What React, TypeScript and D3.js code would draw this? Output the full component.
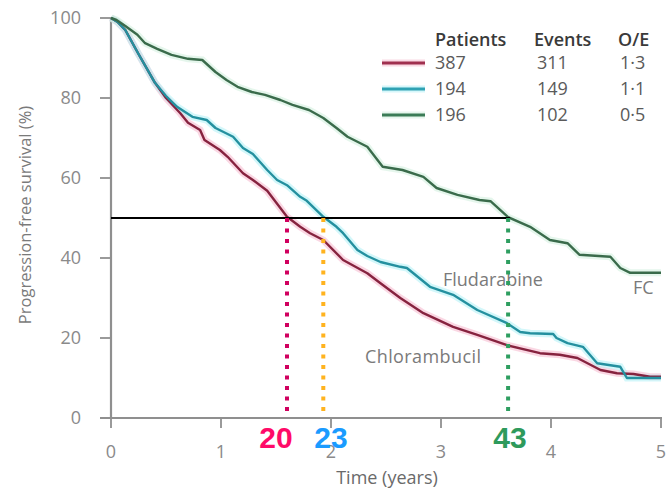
import React from "react";
import * as d3 from "d3";

// Kaplan–Meier progression-free survival, read as [years, percent]
const chlorambucil: [number, number][] = [
  [0, 100], [0.06, 99], [0.13, 97], [0.25, 91], [0.4, 83.8], [0.5, 80], [0.63, 76.2],
  [0.7, 73.8], [0.81, 72], [0.85, 69.5], [0.99, 67], [1.06, 65.3], [1.2, 61.2],
  [1.29, 59.5], [1.42, 56.8], [1.6, 50.3], [1.72, 47.8], [1.81, 46.2], [1.93, 44.5],
  [2.11, 39.5], [2.33, 36.2], [2.45, 33.7], [2.63, 30], [2.84, 26.2], [3.11, 22.8],
  [3.33, 20.8], [3.6, 18.2], [3.9, 16.2], [4.08, 15.8], [4.24, 15], [4.45, 12],
  [4.6, 11.2], [4.75, 11], [4.9, 10.3], [5.0, 10.3],
];

const fludarabine: [number, number][] = [
  [0, 100], [0.06, 99], [0.13, 97], [0.25, 91], [0.4, 83.8], [0.5, 80.5], [0.6, 77.8],
  [0.74, 75.3], [0.87, 74.5], [0.95, 72.5], [1.11, 70.3], [1.2, 67.5], [1.29, 66],
  [1.42, 62], [1.51, 59.5], [1.6, 58.2], [1.72, 55.3], [1.78, 54.3], [1.93, 50.3],
  [2.05, 47.8], [2.11, 46.2], [2.24, 42], [2.33, 40.5], [2.45, 39], [2.63, 37.8],
  [2.69, 37.5], [2.9, 32.8], [3.11, 30.8], [3.33, 27], [3.6, 23.7], [3.72, 21.5],
  [3.81, 21.2], [4.02, 21], [4.05, 20], [4.15, 18.7], [4.29, 17.8], [4.42, 13.7],
  [4.63, 12.8], [4.69, 10], [5.0, 10],
];

const fc: [number, number][] = [
  [0, 100], [0.05, 99.5], [0.13, 98], [0.24, 95.8], [0.31, 93.7], [0.42, 92.3],
  [0.55, 90.8], [0.7, 89.8], [0.83, 89.5], [0.95, 86.5], [1.05, 84.5], [1.15, 82.8],
  [1.28, 81.5], [1.4, 80.8], [1.54, 79.5], [1.65, 78.3], [1.8, 77], [1.93, 75],
  [2.05, 72.5], [2.15, 70.3], [2.33, 67.8], [2.47, 62.8], [2.65, 62], [2.84, 60.3],
  [2.96, 57.5], [3.15, 55.8], [3.35, 54.5], [3.45, 54.2], [3.61, 50.2], [3.81, 47.8],
  [3.99, 44.5], [4.15, 43.7], [4.26, 40.8], [4.54, 40.3], [4.63, 37.5], [4.72, 36.3],
  [5.0, 36.3],
];

const xTicks = [0, 1, 2, 3, 4, 5];
const yTicks = [0, 20, 40, 60, 80, 100];

// Legend table
const legendHeaders = ["Patients", "Events", "O/E"];
const legendPatients = ["387", "194", "196"];
const legendEvents = ["311", "149", "102"];
const legendOE = ["1·3", "1·1", "0·5"];

// Median PFS markers (months) and where each curve crosses 50%
const medianMonths = ["20", "23", "43"];
const medianYears = [1.6, 1.93, 3.61];
const medianLevel = 50;

const lineColors = ["#86233f", "#24909f", "#3a6b4b"];
const haloColors = ["#f6b7cc", "#aef0f6", "#cfeedd"];
const legendLineColors = ["#a0304f", "#2fa2b3", "#3b7c57"];
const dotColors = ["#d0005e", "#ffb31f", "#2e9e60"];
const medianTextColors = ["#ff0a68", "#1a9bff", "#2e9a5c"];

const W = 668;
const H = 491;

export default function App() {
  const x = d3.scaleLinear().domain([0, 5]).range([111, 661]);
  const y = d3.scaleLinear().domain([0, 100]).range([418, 18]);

  const line = d3
    .line<[number, number]>()
    .x((d) => x(d[0]))
    .y((d) => y(d[1]))
    .curve(d3.curveLinear);

  const series = [chlorambucil, fludarabine, fc];
  const font = "'Open Sans', Lato, sans-serif";
  const axisColor = "#8f8f8f";

  return (
    <svg
      width={W}
      height={H}
      style={{ position: "absolute", left: 0, top: 0, background: "#fff" }}
      fontFamily={font}
    >
      {/* axes */}
      <line x1={x(0)} x2={x(0)} y1={y(100)} y2={y(0)} stroke={axisColor} strokeWidth={2.2} />
      <line x1={100} x2={x(5) + 1} y1={y(0)} y2={y(0)} stroke={axisColor} strokeWidth={2.2} />
      {yTicks.map((t) => (
        <g key={"y" + t}>
          <line x1={100} x2={x(0)} y1={y(t)} y2={y(t)} stroke={axisColor} strokeWidth={1.8} />
          <text x={81} y={y(t)} dy="0.35em" textAnchor="end" fontSize={18} fill="#8a8a8a">
            {t}
          </text>
        </g>
      ))}
      {xTicks.map((t) => (
        <g key={"x" + t}>
          <line x1={x(t)} x2={x(t)} y1={y(0)} y2={y(0) + 10} stroke={axisColor} strokeWidth={1.8} />
          <text x={x(t)} y={452} dy="0.35em" textAnchor="middle" fontSize={18} fill="#8a8a8a">
            {t}
          </text>
        </g>
      ))}
      <text
        transform={`translate(25,215) rotate(-90)`}
        textAnchor="middle"
        dy="0.35em"
        fontSize={16.5}
        fill="#7a7a7a"
      >
        Progression-free survival (%)
      </text>
      <text x={387} y={478} dy="0.35em" textAnchor="middle" fontSize={18} fill="#6a6a6a">
        Time (years)
      </text>

      {/* survival curves */}
      {series.map((s, i) => (
        <path key={"h" + i} d={line(s) ?? ""} fill="none" stroke={haloColors[i]} strokeWidth={7} opacity={0.55} />
      ))}
      {series.map((s, i) => (
        <path key={"c" + i} d={line(s) ?? ""} fill="none" stroke={lineColors[i]} strokeWidth={2.4} strokeLinejoin="round" />
      ))}

      {/* curve labels */}
      <text x={443} y={280} dy="0.35em" fontSize={18} fill="#7a7a7a">Fludarabine</text>
      <text x={365} y={357} dy="0.35em" fontSize={18} fill="#7a7a7a" letterSpacing={0.4}>Chlorambucil</text>
      <text x={633} y={288} dy="0.35em" fontSize={18} fill="#7a7a7a">FC</text>

      {/* legend */}
      {legendHeaders.map((h, i) => (
        <text key={h} x={[435, 534, 618][i]} y={40} dy="0.35em" fontSize={18} fontWeight={600} fill="#3a3a3a">
          {h}
        </text>
      ))}
      {legendPatients.map((p, i) => {
        const ry = 63 + i * 26;
        return (
          <g key={"lg" + i}>
            <line x1={382} x2={425} y1={ry} y2={ry} stroke={haloColors[i]} strokeWidth={7} opacity={0.5} />
            <line x1={382} x2={425} y1={ry} y2={ry} stroke={legendLineColors[i]} strokeWidth={3} />
            <text x={435} y={ry} dy="0.35em" fontSize={18} fill="#5a5a5a">{p}</text>
            <text x={537} y={ry} dy="0.35em" fontSize={18} fill="#5a5a5a">{legendEvents[i]}</text>
            <text x={620} y={ry} dy="0.35em" fontSize={18} fill="#5a5a5a">{legendOE[i]}</text>
          </g>
        );
      })}

      {/* median reference lines */}
      <line
        x1={x(0)}
        x2={x(medianYears[2]) + 2}
        y1={y(medianLevel)}
        y2={y(medianLevel)}
        stroke="#000"
        strokeWidth={2}
      />
      {medianYears.map((m, i) => (
        <line
          key={"m" + i}
          x1={x(m)}
          x2={x(m)}
          y1={y(medianLevel)}
          y2={412}
          stroke={dotColors[i]}
          strokeWidth={4}
          strokeDasharray="4 6.5"
        />
      ))}
      {medianMonths.map((t, i) => (
        <text
          key={"mt" + i}
          x={[276, 331, 510][i]}
          y={448}
          textAnchor="middle"
          fontSize={30}
          fontWeight={700}
          fontFamily="'Liberation Sans', Arial, sans-serif"
          fill={medianTextColors[i]}
        >
          {t}
        </text>
      ))}
    </svg>
  );
}
